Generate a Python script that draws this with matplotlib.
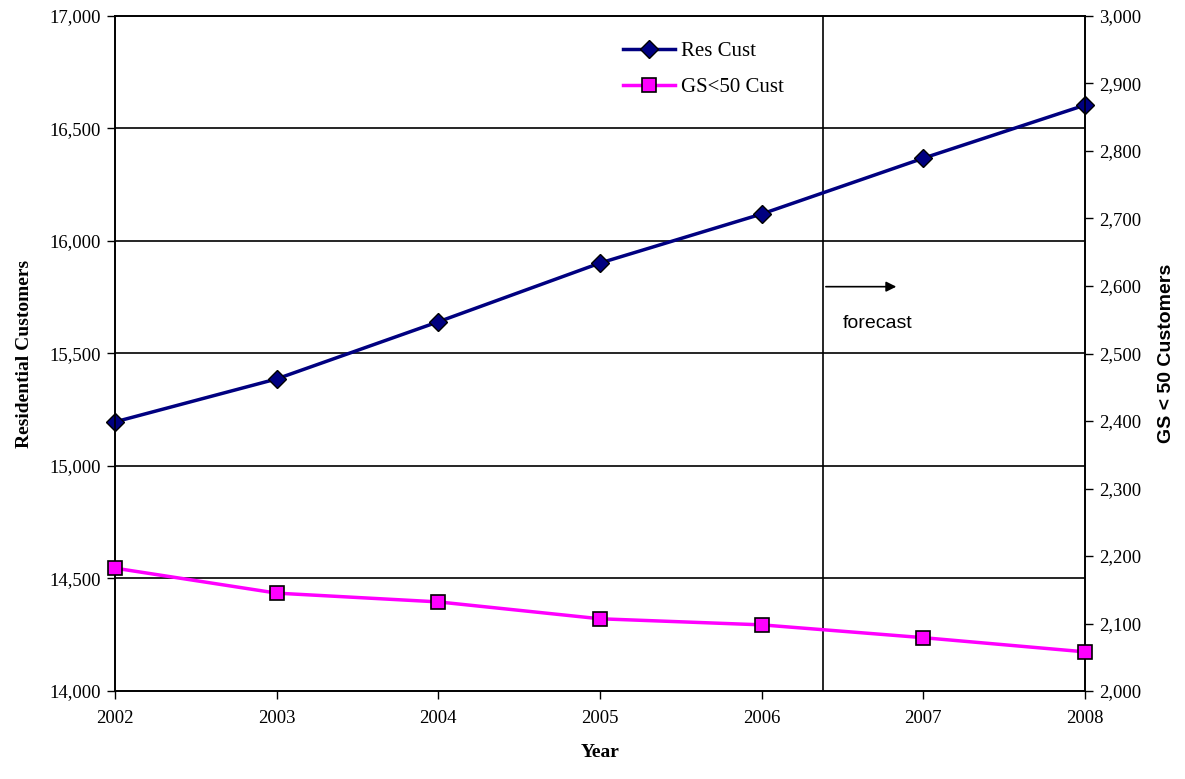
import matplotlib
matplotlib.use("Agg")
import matplotlib.pyplot as plt

years = [2002, 2003, 2004, 2005, 2006, 2007, 2008]
res_cust = [15196, 15387, 15641, 15902, 16120, 16368, 16604]
gs50_cust = [2182, 2145, 2132, 2107, 2098, 2079, 2058]
left_ticks = [14000, 14500, 15000, 15500, 16000, 16500, 17000]
right_ticks = [2000, 2100, 2200, 2300, 2400, 2500, 2600, 2700, 2800, 2900, 3000]
forecast_x = 2006.38

serif = "Liberation Serif"
sans = "Liberation Sans"

fig = plt.figure(figsize=(11.85, 7.79), dpi=100)
ax = fig.add_axes([115/1185, 1-691/779, (1085-115)/1185, (691-16)/779])
ax2 = ax.twinx()

ax.set_xlim(2002, 2008)
ax.set_ylim(14000, 17000)
ax2.set_ylim(2000, 3000)

for y in left_ticks[1:-1]:
    ax.axhline(y, color="black", lw=1.2, zorder=1)
ax.axvline(forecast_x, color="black", lw=1.2, zorder=1)

l1, = ax.plot(years, res_cust, color="#000080", lw=2.5, marker="D", ms=9,
              mfc="#000080", mec="black", mew=1, zorder=3, label="Res Cust", clip_on=False)
l2, = ax2.plot(years, gs50_cust, color="#FF00FF", lw=2.5, marker="s", ms=10,
               mfc="#FF00FF", mec="black", mew=1.2, zorder=3, label="GS<50 Cust", clip_on=False)

ax.set_xticks(years)
ax.set_yticks(left_ticks)
ax.set_yticklabels([f"{v:,}" for v in left_ticks])
ax2.set_yticks(right_ticks)
ax2.set_yticklabels([f"{v:,}" for v in right_ticks])

for a in (ax, ax2):
    a.tick_params(direction="out", length=6, width=1, labelsize=13.5, pad=4, color="black")
    for lab in a.get_xticklabels() + a.get_yticklabels():
        lab.set_fontfamily(serif)
    for s in a.spines.values():
        s.set_linewidth(1.2)
        s.set_color("black")
ax.tick_params(axis="x", pad=8)

ax.set_xlabel("Year", fontfamily=serif, fontweight="bold", fontsize=14, labelpad=12)
ax.set_ylabel("Residential Customers", fontfamily=serif, fontweight="bold", fontsize=14, labelpad=12)
ax2.set_ylabel("GS < 50 Customers", fontfamily=sans, fontweight="bold", fontsize=14, labelpad=12)

ax.annotate("", xy=(2006.85, 15797), xytext=(forecast_x, 15797),
            arrowprops=dict(arrowstyle="-|>", color="black", lw=1.2, mutation_scale=15))
ax.text(2006.50, 15635, "forecast", fontfamily=sans, fontsize=14, ha="left", va="center")

leg = ax.legend(handles=[l1, l2], loc="upper left", bbox_to_anchor=(0.504, 0.99),
                frameon=False, prop={"family": serif, "size": 15},
                handlelength=2.5, labelspacing=0.8, handletextpad=0.3)

fig.savefig("out.png", dpi=100)
